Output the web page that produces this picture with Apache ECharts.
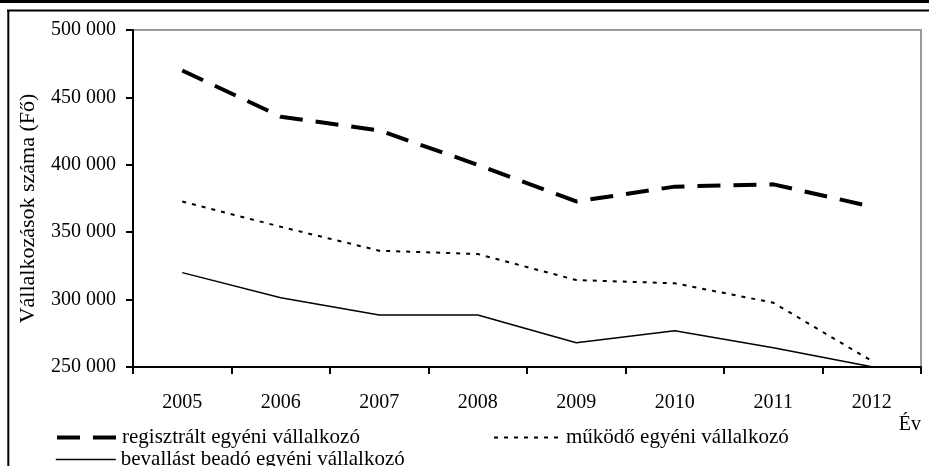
<!DOCTYPE html>
<html>
<head>
<meta charset="utf-8">
<script src="https://cdn.jsdelivr.net/npm/echarts@6/dist/echarts.min.js"></script>
<style>
  html, body { margin: 0; padding: 0; background: #fff; }
  #chart { width: 929px; height: 466px; }
</style>
</head>
<body>
<div id="chart"></div>
<script>
// adatok
var evek = ['2005', '2006', '2007', '2008', '2009', '2010', '2011', '2012'];
var regisztralt = [470000, 435700, 425500, 400000, 372800, 383800, 385500, 369000];
var mukodo = [372800, 354000, 336300, 333800, 314500, 312100, 297700, 254500];
var bevallast = [320000, 301400, 288600, 288600, 268000, 276900, 264300, 250200];

var nevek = ['regisztrált egyéni vállalkozó', 'működő egyéni vállalkozó', 'bevallást beadó egyéni vállalkozó'];

var betu = 'Liberation Serif, Times New Roman, serif';

var myChart = echarts.init(document.getElementById('chart'));

function ezres(v) {
  return String(v).replace(/\B(?=(\d{3})+(?!\d))/g, ' ');
}

// vonaltípusok (sorozat + jelmagyarázat)
var szaggatott = { color: '#000', width: 4, type: [23, 13] };
var pontozott = { color: '#000', width: 2, type: [4, 6] };
var folytonos = { color: '#000', width: 1.5, type: 'solid' };

function jelmagyarazat(nev, bal, fent, szel, vonal) {
  return {
    data: [nev],
    left: bal,
    top: fent,
    orient: 'horizontal',
    padding: 0,
    itemGap: 0,
    itemWidth: szel,
    itemHeight: 14,
    lineStyle: vonal,
    itemStyle: { color: 'rgba(0,0,0,0)', borderWidth: 0, opacity: 0 },
    textStyle: { fontFamily: betu, fontSize: 21, color: '#000' }
  };
}

var option = {
  animation: false,
  backgroundColor: '#fff',
  textStyle: { fontFamily: betu },
  grid: {
    left: 133, right: 8, top: 30, bottom: 99,
    show: true, borderColor: '#9a9a9a', borderWidth: 2
  },
  // keret
  graphic: [
    { type: 'line', shape: { x1: 0, y1: 1.5, x2: 929, y2: 1.5 }, style: { stroke: '#000', lineWidth: 3 } },
    { type: 'line', shape: { x1: 7, y1: 10.5, x2: 929, y2: 10.5 }, style: { stroke: '#000', lineWidth: 2 } },
    { type: 'line', shape: { x1: 8.3, y1: 10, x2: 8.3, y2: 466 }, style: { stroke: '#000', lineWidth: 2 } }
  ],
  legend: [
    jelmagyarazat(nevek[0], 55, 427, 60, szaggatott),
    jelmagyarazat(nevek[1], 493, 427, 67, pontozott),
    jelmagyarazat(nevek[2], 55, 449, 60, folytonos)
  ],
  xAxis: {
    type: 'category',
    data: evek,
    boundaryGap: true,
    name: 'Év',
    nameLocation: 'end',
    nameGap: 0,
    nameTextStyle: { fontFamily: betu, fontSize: 20, color: '#000', align: 'right', verticalAlign: 'top', padding: [48, 0, 0, 0] },
    axisLine: { lineStyle: { color: '#000', width: 2 } },
    axisTick: { show: true, length: 7, lineStyle: { color: '#000', width: 2 } },
    axisLabel: { fontFamily: betu, fontSize: 20, color: '#000', margin: 26 },
    splitLine: { show: false }
  },
  yAxis: {
    type: 'value',
    min: 250000,
    max: 500000,
    interval: 50000,
    name: 'Vállalkozások száma (Fő)',
    nameLocation: 'middle',
    nameGap: 94,
    nameTextStyle: { fontFamily: betu, fontSize: 22, color: '#000', padding: [0, 20, 0, 0] },
    axisLine: { show: true, lineStyle: { color: '#000', width: 2 } },
    axisTick: { show: true, length: 7, lineStyle: { color: '#000', width: 2 } },
    axisLabel: { fontFamily: betu, fontSize: 20, color: '#000', margin: 17, formatter: ezres },
    splitLine: { show: false }
  },
  series: [
    { name: nevek[0], type: 'line', data: regisztralt, symbol: 'none', lineStyle: szaggatott, itemStyle: { color: '#000' } },
    { name: nevek[1], type: 'line', data: mukodo, symbol: 'none', lineStyle: pontozott, itemStyle: { color: '#000' } },
    { name: nevek[2], type: 'line', data: bevallast, symbol: 'none', lineStyle: folytonos, itemStyle: { color: '#000' } }
  ]
};

myChart.setOption(option);
</script>
</body>
</html>
